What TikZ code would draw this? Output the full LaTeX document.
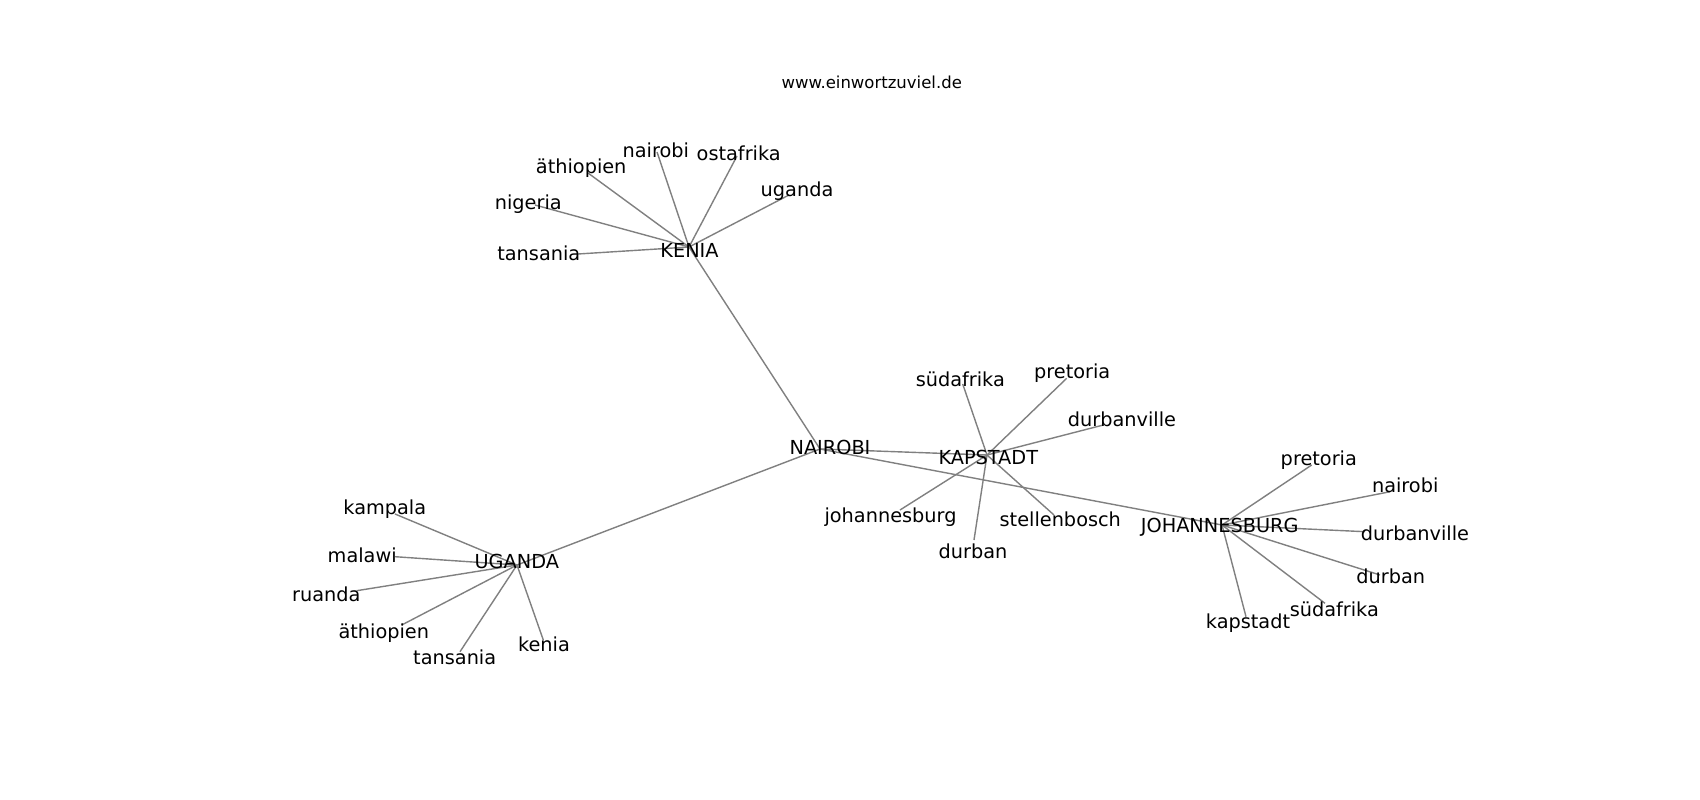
\documentclass[tikz,border=0pt]{standalone}
\usepackage{fontspec}
\setmainfont{DejaVu Sans}
\begin{document}
\begin{tikzpicture}[x=1pt,y=-1pt,
  edge/.style={draw=gray, line width=1.4pt},
  lbl/.style={anchor=base, inner sep=0pt, yshift=-1pt, text=black, font=\fontsize{19.3}{23}\selectfont},
  ttl/.style={anchor=base, inner sep=0pt, text=black, font=\fontsize{16.5}{20}\selectfont}]
\useasboundingbox[fill=white] (0,0) rectangle (1700,800);

% hub points
\coordinate (kH) at (689,247);
\coordinate (nH) at (820,449);
\coordinate (uH) at (517,565);
\coordinate (sH) at (987,455);
\coordinate (jH) at (1222,525);

% leaf points
\coordinate (k1) at (657,152);
\coordinate (k2) at (737,156);
\coordinate (k3) at (789,195);
\coordinate (k4) at (588,173);
\coordinate (k5) at (535,205);
\coordinate (k6) at (578,254);

\coordinate (u1) at (395,514);
\coordinate (u2) at (395,556.7);
\coordinate (u3) at (356.7,590.7);
\coordinate (u4) at (401.7,625);
\coordinate (u5) at (460,651.7);
\coordinate (u6) at (543.3,640);

\coordinate (s1) at (962.7,384);
\coordinate (s2) at (1066.7,378.3);
\coordinate (s3) at (1103.3,425);
\coordinate (s4) at (900,510);
\coordinate (s5) at (1054,515);
\coordinate (s6) at (974,540);

\coordinate (j1) at (1311.7,465);
\coordinate (j2) at (1390,491.7);
\coordinate (j3) at (1365,531.7);
\coordinate (j4) at (1380,575);
\coordinate (j5) at (1325,603.3);
\coordinate (j6) at (1246,616.7);

% edges
\draw[edge] (kH) -- (nH);
\draw[edge] (nH) -- (uH);
\draw[edge] (nH) -- (sH);
\draw[edge] (nH) -- (jH);
\foreach \i in {1,...,6} {
  \draw[edge] (kH) -- (k\i);
  \draw[edge] (uH) -- (u\i);
  \draw[edge] (sH) -- (s\i);
  \draw[edge] (jH) -- (j\i);
}

% title
\node[ttl] (title) at (871.7,88.3) {www.einwortzuviel.de};

% hub labels
\node[lbl] (kenia) at (689.5,256.7) {KENIA};
\node[lbl] (nairobi) at (830,453.3) {NAIROBI};
\node[lbl] (uganda) at (516.8,567.3) {UGANDA};
\node[lbl] (kapstadt) at (988.3,463.3) {KAPSTADT};
\node[lbl] (johannesburg) at (1219.7,531.7) {JOHANNESBURG};

% KENIA leaves
\node[lbl] (kl1) at (655.8,156) {nairobi};
\node[lbl] (kl2) at (738.7,159) {ostafrika};
\node[lbl] (kl3) at (797,195.7) {uganda};
\node[lbl] (kl4) at (581.2,172.7) {äthiopien};
\node[lbl] (kl5) at (528.3,208.5) {nigeria};
\node[lbl] (kl6) at (538.8,259) {tansania};

% UGANDA leaves
\node[lbl] (ul1) at (384.8,513.5) {kampala};
\node[lbl] (ul2) at (362.2,561) {malawi};
\node[lbl] (ul3) at (326.3,600.5) {ruanda};
\node[lbl] (ul4) at (383.8,637) {äthiopien};
\node[lbl] (ul5) at (454.7,663) {tansania};
\node[lbl] (ul6) at (544,650.3) {kenia};

% KAPSTADT leaves
\node[lbl] (sl1) at (960.3,385.5) {südafrika};
\node[lbl] (sl2) at (1072.2,377.8) {pretoria};
\node[lbl] (sl3) at (1122,425.5) {durbanville};
\node[lbl] (sl4) at (890.5,521) {johannesburg};
\node[lbl] (sl5) at (1060.3,525) {stellenbosch};
\node[lbl] (sl6) at (973,557) {durban};

% JOHANNESBURG leaves
\node[lbl] (jl1) at (1318.8,464.3) {pretoria};
\node[lbl] (jl2) at (1405.2,491.5) {nairobi};
\node[lbl] (jl3) at (1415,539) {durbanville};
\node[lbl] (jl4) at (1390.8,582.5) {durban};
\node[lbl] (jl5) at (1334.3,615) {südafrika};
\node[lbl] (jl6) at (1248,627) {kapstadt};
\end{tikzpicture}
\end{document}
